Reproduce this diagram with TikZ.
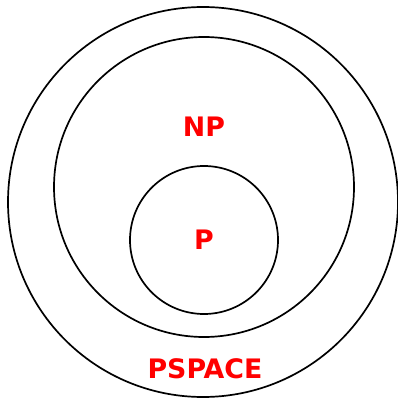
\documentclass[tikz,border=0pt]{standalone}
\usepackage{fontspec}
\setmainfont{DejaVu Sans}
\usetikzlibrary{positioning}

\begin{document}
\begin{tikzpicture}[x=1pt, y=-1pt, every node/.style={text=red, font=\bfseries\fontsize{26.8}{32}\selectfont}]
            \useasboundingbox (0,0) rectangle (397,398);
            \node[draw=black, line width=1.7pt, circle, minimum size=390pt, inner sep=0pt] (pspace) at (203,202) {};
            \node[draw=black, line width=1.7pt, circle, minimum size=300pt, inner sep=0pt] (np) at (204,187) {};
            \node[draw=black, line width=1.7pt, circle, minimum size=148pt, inner sep=0pt] (p) at (204,240) {};
            
            \node (plabel) at (p.center) {P};
            \node (nplabel) at (204,127) {NP};
            \node (pspacelabel) at (205,369) {PSPACE};
        \end{tikzpicture}
\end{document}
